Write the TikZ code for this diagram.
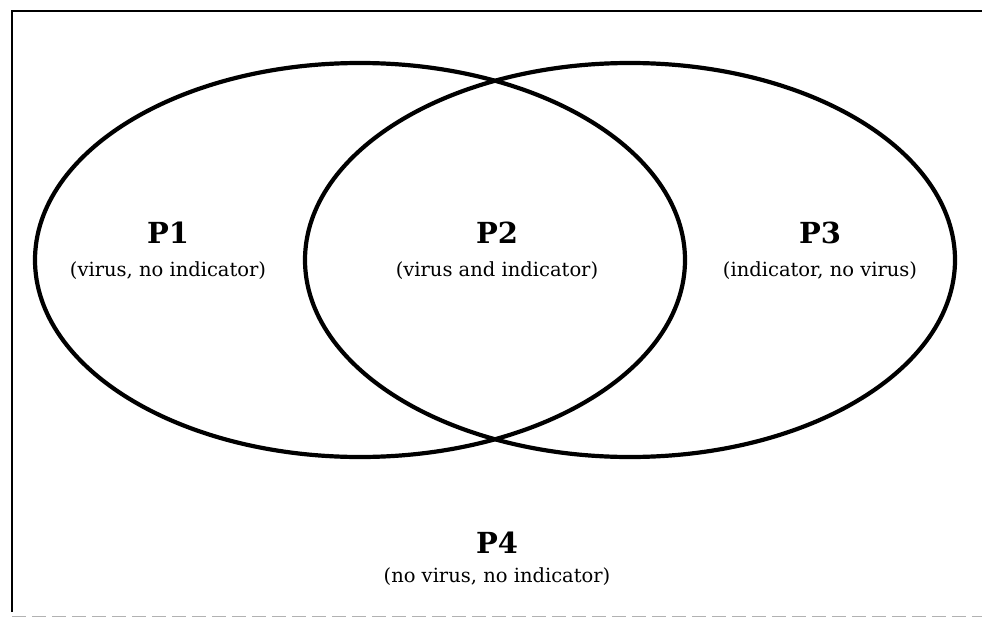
\documentclass[tikz,border=0pt]{standalone}
\usepackage{fontspec}
\setmainfont{DejaVu Serif}
\usetikzlibrary{shapes.geometric}
\begin{document}
\begin{tikzpicture}[x=1pt,y=-1pt,
  setring/.style={ellipse,draw=black,line width=4.2pt,minimum width=650pt,minimum height=394pt,inner sep=0pt},
  title/.style={anchor=base,inner sep=0pt,font=\fontsize{29}{32}\selectfont\bfseries},
  sub/.style={anchor=base,inner sep=0pt,font=\fontsize{19.5}{22}\selectfont},
  frame/.style={line width=2pt,black}]
\useasboundingbox (0,0) rectangle (982,618);
\fill[white] (0,0) rectangle (982,618);
% frame
\coordinate (fbl) at (12,612);
\coordinate (ftl) at (12,11);
\coordinate (ftr) at (982,11);
\coordinate (fbl2) at (12,616.5);
\coordinate (fbr) at (982,616.5);
\draw[frame] (fbl) -- (ftl) -- (ftr);
\draw[gray!60,line width=1.2pt,dash pattern=on 14pt off 6pt] (fbl2) -- (fbr);
% sets
\node[setring] (left) at (360,260) {};
\node[setring] (right) at (630,260) {};
% labels
\node[title] (p1) at (168,243) {P1};
\node[sub] (s1) at (168,276) {(virus, no indicator)};
\node[title] (p2) at (497,243) {P2};
\node[sub] (s2) at (497,276) {(virus and indicator)};
\node[title] (p3) at (820,243) {P3};
\node[sub] (s3) at (820,276) {(indicator, no virus)};
\node[title] (p4) at (497,553) {P4};
\node[sub] (s4) at (497,582) {(no virus, no indicator)};
\end{tikzpicture}
\end{document}
